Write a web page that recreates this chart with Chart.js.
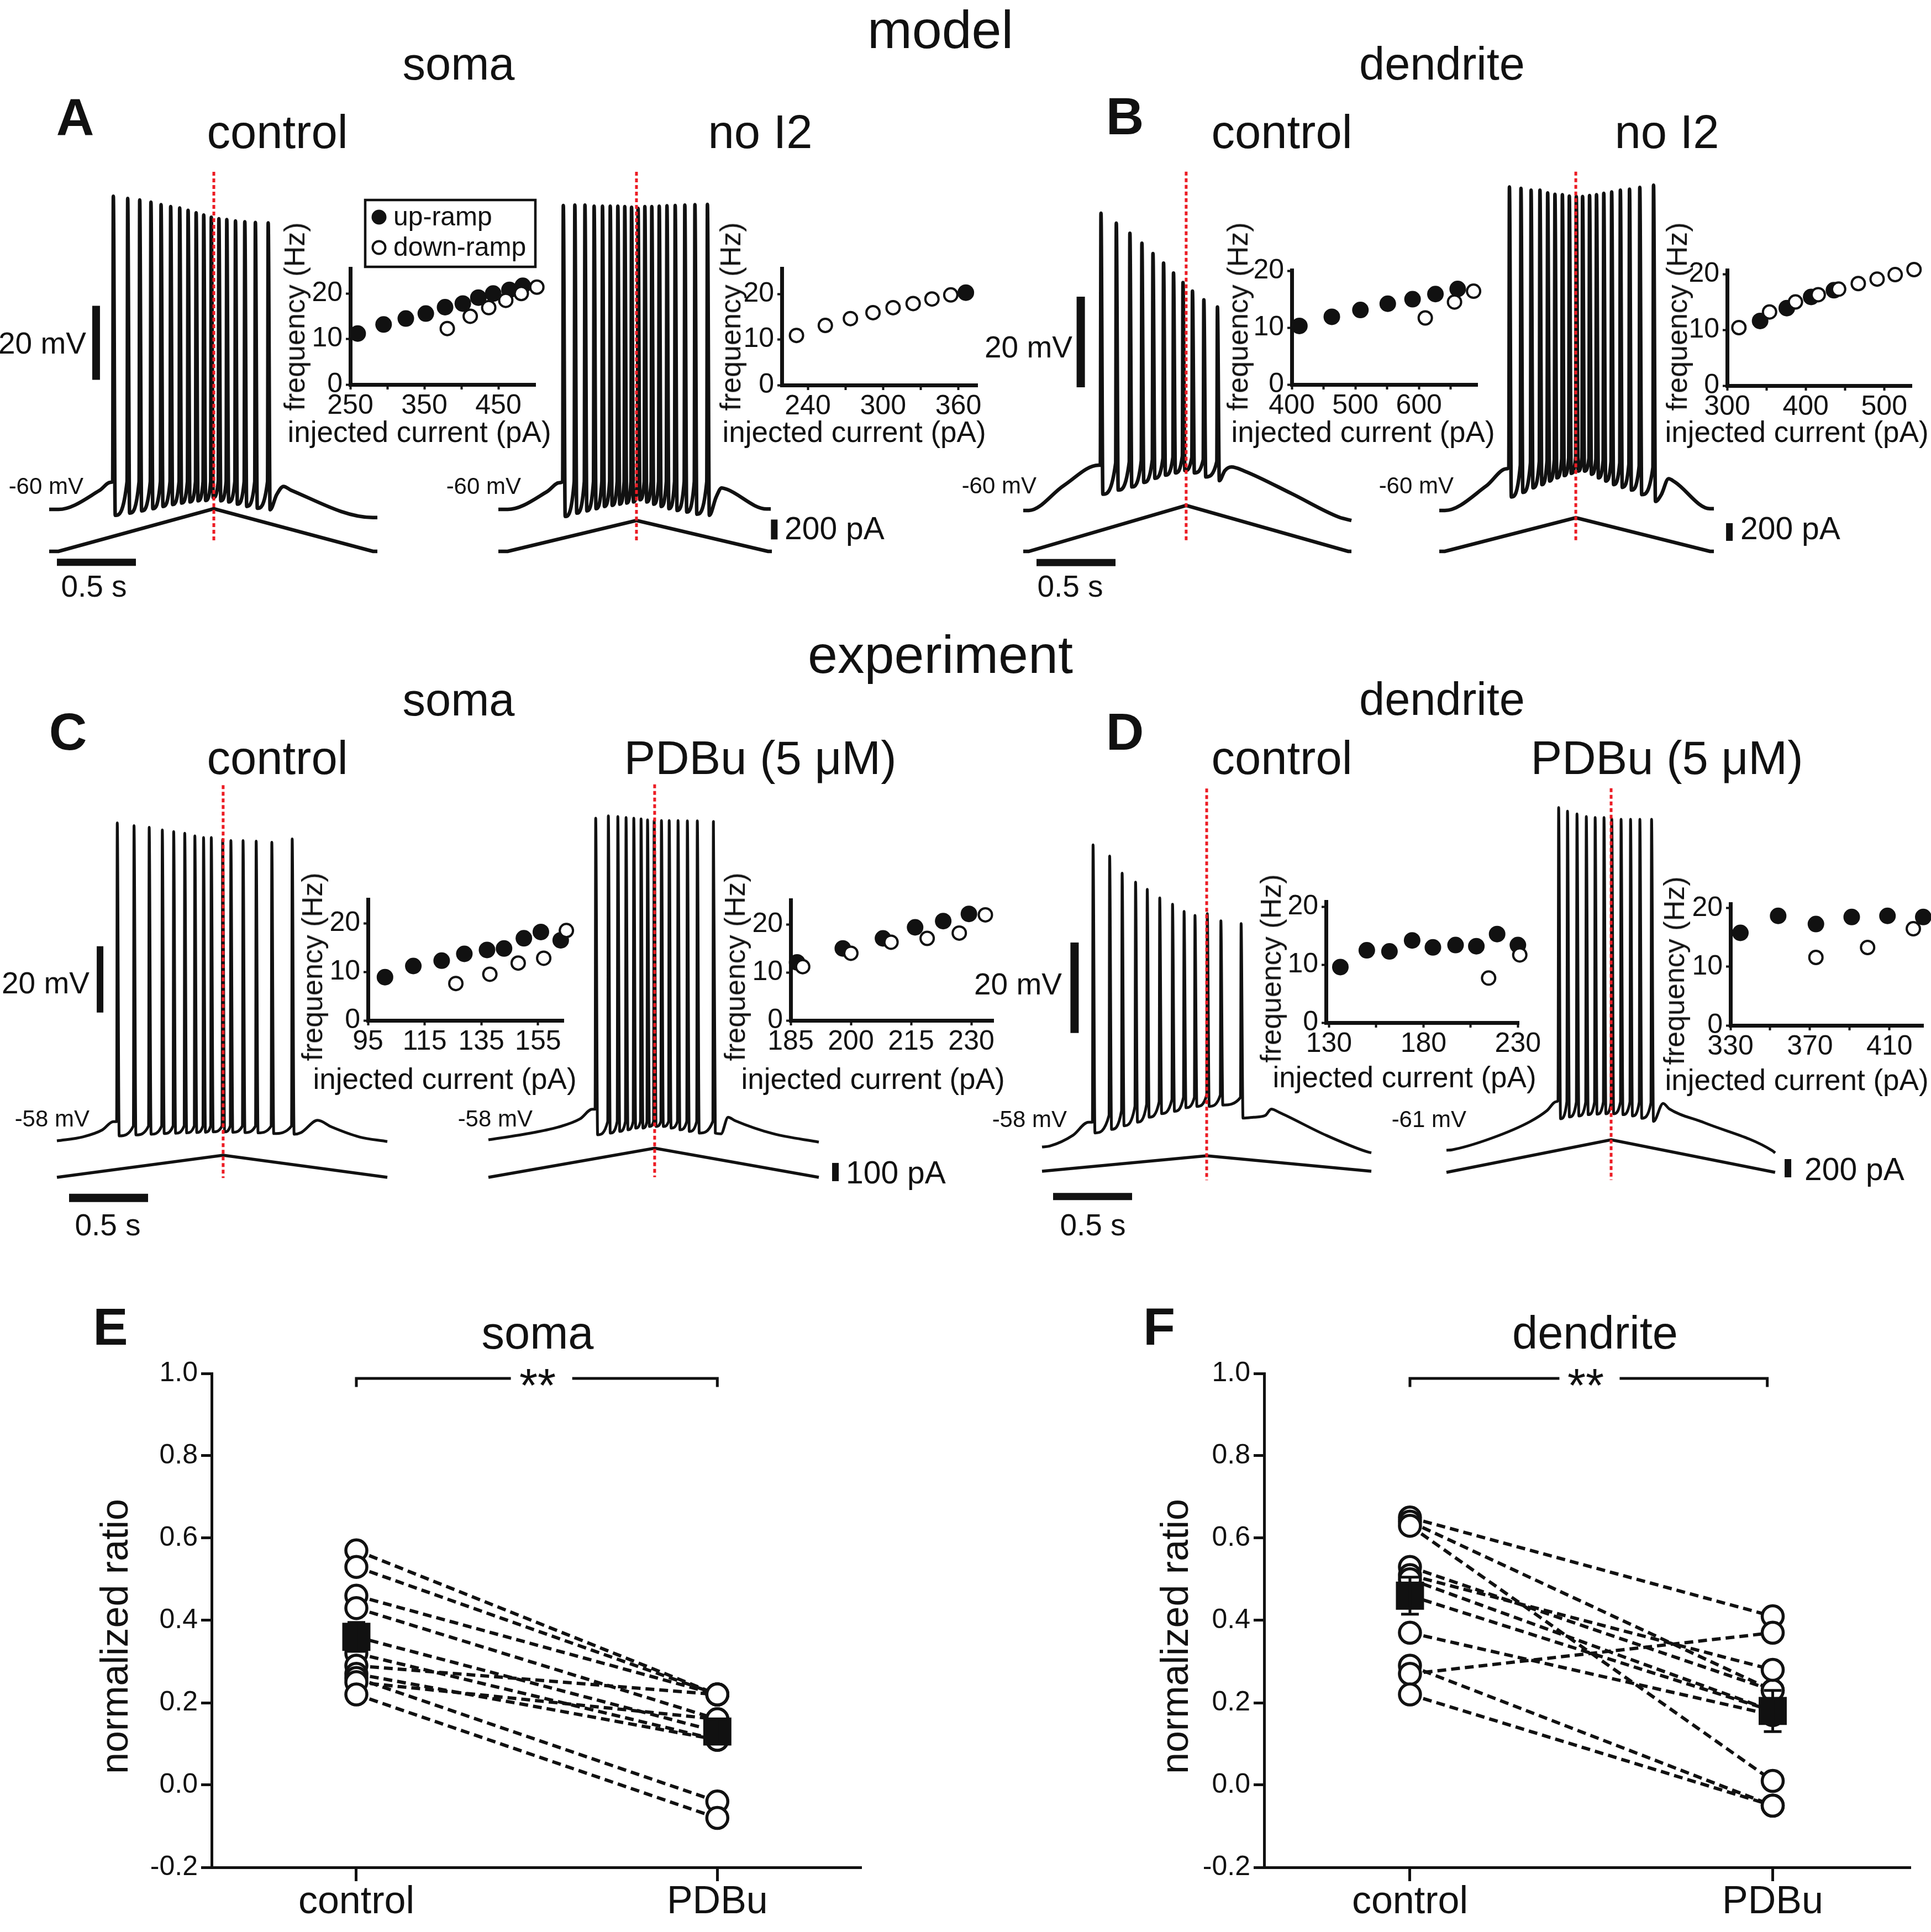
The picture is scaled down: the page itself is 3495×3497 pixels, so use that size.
<!DOCTYPE html>
<html>
<head>
<meta charset="utf-8">
<title>Ramp-evoked firing: model and experiment</title>
<script src="https://cdn.jsdelivr.net/npm/chart.js@4.4.1/dist/chart.umd.min.js"></script>
<style>
  html, body { margin:0; padding:0; background:#ffffff; }
  body { position:relative; width:3495px; height:3497px; overflow:hidden;
         font-family:"Liberation Sans", Arial, Helvetica, sans-serif; color:#111111; }
  canvas { position:absolute; }
  .lbl { position:absolute; white-space:nowrap; line-height:1; }
</style>
</head>
<body>
<script>
// =====================================================================
// DATA. Time in s, voltage in mV, current in pA,
// frequency in Hz, normalized ratio unitless.
// =====================================================================

// ---- A: model soma, control ----
const A_ctrl_preT = [0, 0.059, 0.318, 0.388];
const A_ctrl_preV = [-60, -60, -54.9, -52.7];
const A_ctrl_spikeT = [0.402,0.493,0.569,0.640,0.704,0.765,0.822,0.875,0.926,0.974,1.022,1.070,1.120,1.175,1.234,1.301,1.382];
const A_ctrl_spikePeak = [24.6,24.0,23.6,23.0,22.3,21.8,21.4,20.8,20.1,19.5,18.9,18.5,18.3,17.9,17.7,17.5,17.4];
const A_ctrl_spikeTrough = [-61.6,-61.0,-60.4,-59.8,-59.2,-58.7,-58.3,-58.0,-57.7,-57.6,-56.8,-57.7,-58.0,-58.6,-59.2,-59.7,-60.1];
const A_ctrl_spikeThr = [-52.5,-52.5,-52.5,-52.5,-52.5,-52.5,-52.5,-52.5,-52.5,-52.5,-52.5,-52.5,-52.5,-52.5,-52.5,-52.5,-52.5];
const A_ctrl_postT = [1.440, 1.483, 1.530, 2.049, 2.077];
const A_ctrl_postV = [-56.0, -53.8, -54.8, -62.2, -62.2];
const A_ctrl_rampT = [0, 0.059, 1.042, 2.049, 2.077];
const A_ctrl_rampI = [70, 70, 498, 70, 70];

// ---- A: model soma, no I2 ----
const A_noI2_preT = [0, 0.059, 0.308, 0.385];
const A_noI2_preV = [-60, -60, -55.2, -52.8];
const A_noI2_spikeT = [0.407,0.480,0.544,0.602,0.655,0.704,0.752,0.796,0.839,0.880,0.923,0.967,1.014,1.063,1.115,1.176,1.240,1.319];
const A_noI2_spikePeak = [22.1,22.2,22.2,21.9,21.9,21.9,21.9,21.8,21.6,21.3,21.8,21.8,21.9,22.0,22.1,22.2,22.3,22.4];
const A_noI2_spikeTrough = [-61.9,-61.0,-60.4,-59.8,-59.2,-58.9,-58.6,-58.3,-58.0,-57.4,-58.0,-58.6,-59.2,-59.8,-60.3,-60.7,-61.3,-61.6];
const A_noI2_spikeThr = [-52.5,-52.5,-52.5,-52.5,-52.5,-52.5,-52.5,-52.5,-52.5,-52.5,-52.5,-52.5,-52.5,-52.5,-52.5,-52.5,-52.5,-52.5];
const A_noI2_postT = [1.378, 1.413, 1.448, 1.699, 1.724];
const A_noI2_postV = [-56.7, -54.2, -54.6, -59.9, -59.9];
const A_noI2_rampT = [0, 0.059, 0.874, 1.706, 1.731];
const A_noI2_rampI = [55, 55, 366, 55, 55];

// ---- B: model dendrite, control ----
const B_ctrl_preT = [0, 0.035, 0.256, 0.476];
const B_ctrl_preV = [-60, -60, -54.5, -50.0];
const B_ctrl_spikeT = [0.488,0.585,0.671,0.747,0.817,0.884,0.947,1.007,1.067,1.139,1.225];
const B_ctrl_spikePeak = [5.6,3.4,1.2,-1.0,-3.3,-5.4,-7.6,-9.7,-11.6,-13.5,-15.1];
const B_ctrl_spikeTrough = [-56.4,-55.5,-54.8,-53.8,-52.9,-52.2,-51.7,-51.2,-51.7,-52.6,-53.4];
const B_ctrl_spikeThr = [-50.0,-49.5,-49.3,-49.0,-48.8,-48.5,-48.3,-48.0,-48.3,-48.8,-49.2];
const B_ctrl_postT = [1.276, 1.318, 1.400, 1.700, 2.000, 2.077];
const B_ctrl_postV = [-51.2, -50.4, -51.3, -56.3, -61.5, -62.2];
const B_ctrl_rampT = [0, 0.035, 1.031, 2.056, 2.077];
const B_ctrl_rampI = [160, 160, 679, 160, 160];

// ---- B: model dendrite, no I2 ----
const B_noI2_preT = [0, 0.035, 0.297, 0.425];
const B_noI2_preV = [-60, -60, -54.6, -50.8];
const B_noI2_spikeT = [0.440,0.513,0.577,0.633,0.682,0.728,0.775,0.819,0.863,0.903,0.947,0.991,1.037,1.087,1.142,1.200,1.265,1.352];
const B_noI2_spikePeak = [11.4,11.1,10.7,10.7,10.1,9.8,9.7,9.4,9.3,9.3,9.5,9.7,10.0,10.3,10.7,10.9,11.3,11.8];
const B_noI2_spikeTrough = [-57.0,-56.0,-55.0,-54.3,-53.5,-52.8,-52.3,-51.8,-51.3,-51.3,-52.0,-52.8,-53.5,-54.3,-54.9,-55.5,-56.5,-58.0];
const B_noI2_spikeThr = [-50.5,-50.0,-49.5,-49.2,-49.0,-48.8,-48.6,-48.4,-48.3,-48.3,-48.5,-48.7,-49.0,-49.2,-49.5,-49.8,-50.2,-50.5];
const B_noI2_postT = [1.405, 1.451, 1.490, 1.713, 1.738];
const B_noI2_postV = [-56.5, -53.0, -53.7, -59.6, -59.6];
const B_noI2_rampT = [0, 0.035, 0.864, 1.713, 1.738];
const B_noI2_rampI = [150, 150, 531, 150, 150];

// ---- C: experiment soma, control ----
const C_ctrl_preT = [0, 0.164, 0.287, 0.357];
const C_ctrl_preV = [-58, -56.8, -54.7, -52.2];
const C_ctrl_spikeT = [0.378,0.484,0.580,0.663,0.735,0.805,0.869,0.924,0.973,1.045,1.097,1.174,1.257,1.356,1.485];
const C_ctrl_spikePeak = [37.9,37.1,36.6,35.8,35.3,34.8,34.0,33.5,33.5,32.9,32.6,32.6,32.4,32.1,33.1];
const C_ctrl_spikeTrough = [-56.5,-56.2,-56.0,-55.8,-55.7,-55.6,-55.5,-55.4,-55.3,-55.3,-55.4,-55.5,-55.6,-55.8,-56.0];
const C_ctrl_spikeThr = [-52.2,-53.5,-53.5,-53.5,-53.5,-53.5,-53.5,-53.5,-53.5,-53.5,-53.5,-53.5,-53.5,-53.5,-53.5];
const C_ctrl_postT = [1.545, 1.650, 1.738, 1.913, 2.091];
const C_ctrl_postV = [-55.5, -51.8, -53.8, -56.8, -58.2];
const C_ctrl_rampT = [0, 1.052, 2.091];
const C_ctrl_rampI = [42, 163, 42];

// ---- C: experiment soma, PDBu (5 uM) ----
const C_pdbu_preT = [0, 0.231, 0.441, 0.580, 0.657];
const C_pdbu_preV = [-58, -56.3, -54.2, -51.7, -48.8];
const C_pdbu_spikeT = [0.675,0.755,0.815,0.867,0.916,0.962,1.003,1.045,1.091,1.140,1.196,1.255,1.318,1.420];
const C_pdbu_spikePeak = [39.0,39.7,39.5,39.2,39.0,38.8,38.5,38.3,38.3,38.3,38.3,38.2,38.2,38.0];
const C_pdbu_spikeTrough = [-56.5,-56.0,-55.5,-55.0,-54.5,-54.5,-54.0,-54.0,-54.0,-54.5,-55.0,-55.5,-56.0,-56.0];
const C_pdbu_spikeThr = [-48.8,-52.5,-52.5,-52.5,-52.5,-52.5,-52.5,-52.5,-52.5,-52.5,-52.5,-52.5,-52.5,-52.5];
const C_pdbu_postT = [1.472, 1.517, 1.559, 1.804, 2.091];
const C_pdbu_postV = [-56.2, -51.2, -52.2, -56.2, -58.7];
const C_pdbu_rampT = [0, 1.052, 2.091];
const C_pdbu_rampI = [72, 232, 72];

// ---- D: experiment dendrite, control ----
const D_ctrl_preT = [0, 0.049, 0.196, 0.294];
const D_ctrl_preV = [-58, -57.8, -55.4, -52.5];
const D_ctrl_spikeT = [0.319,0.424,0.503,0.588,0.662,0.741,0.822,0.895,0.964,1.042,1.128,1.256];
const D_ctrl_spikePeak = [9.1,6.6,2.8,0.8,-0.8,-2.7,-4.1,-5.7,-6.6,-6.2,-7.8,-8.4];
const D_ctrl_spikeTrough = [-54.9,-54.1,-53.3,-52.5,-51.4,-50.6,-50.1,-49.3,-49.0,-49.0,-48.7,-51.6];
const D_ctrl_spikeThr = [-52.5,-51.0,-50.0,-49.0,-48.5,-48.0,-47.5,-47.0,-47.0,-46.5,-46.5,-47.0];
const D_ctrl_postT = [1.340, 1.413, 1.451, 1.500, 1.797, 2.059, 2.084];
const D_ctrl_postV = [-51.4, -51.0, -49.6, -50.3, -55.4, -59.1, -59.3];
const D_ctrl_rampT = [0, 1.042, 2.084];
const D_ctrl_rampI = [62, 232, 62];

// ---- D: experiment dendrite, PDBu (5 uM) ----
const D_pdbu_preT = [0, 0.035, 0.287, 0.531, 0.636, 0.695];
const D_pdbu_preV = [-61, -60.9, -58.3, -54.6, -52.2, -50.2];
const D_pdbu_spikeT = [0.706,0.762,0.822,0.881,0.937,0.993,1.042,1.101,1.161,1.220,1.294];
const D_pdbu_spikePeak = [15.1,14.3,13.7,13.1,12.9,12.9,12.6,12.5,12.5,12.5,12.5];
const D_pdbu_spikeTrough = [-54.0,-53.6,-53.4,-53.1,-53.0,-52.9,-52.9,-53.1,-53.4,-53.9,-54.6];
const D_pdbu_spikeThr = [-50.0,-50.2,-50.3,-50.3,-50.3,-50.3,-50.3,-50.3,-50.3,-50.3,-50.5];
const D_pdbu_postT = [1.371, 1.410, 1.633, 2.063, 2.080];
const D_pdbu_postV = [-50.6, -51.8, -54.9, -61.1, -61.6];
const D_pdbu_rampT = [0, 1.042, 2.080];
const D_pdbu_rampI = [72, 430, 72];

// ---- Insets: instantaneous frequency vs injected current ----
const A_ctrl_upI = [260, 295, 325, 352, 378, 402, 423, 443, 465, 483];
const A_ctrl_upF = [11.2, 13.2, 14.5, 15.6, 17.0, 17.8, 19.1, 20.0, 20.8, 21.7];
const A_ctrl_downI = [381, 412, 437, 460, 481, 502];
const A_ctrl_downF = [12.3, 15.0, 16.9, 18.5, 20.0, 21.4];

const A_noI2_upI = [366];
const A_noI2_upF = [20.3];
const A_noI2_downI = [231, 254, 274, 292, 308, 324, 339, 354];
const A_noI2_downF = [10.9, 13.1, 14.6, 15.9, 17.0, 17.9, 18.9, 19.8];

const B_ctrl_upI = [412, 463, 508, 551, 590, 626, 661];
const B_ctrl_upF = [10.3, 11.9, 13.1, 14.2, 15.0, 15.9, 16.8];
const B_ctrl_downI = [610, 656, 686];
const B_ctrl_downF = [11.7, 14.5, 16.4];

const B_noI2_upI = [342, 376, 407, 436];
const B_noI2_upF = [11.6, 13.9, 15.9, 17.1];
const B_noI2_downI = [315, 354, 387, 416, 442, 467, 491, 514, 538];
const B_noI2_downF = [10.4, 13.2, 15.0, 16.3, 17.3, 18.3, 19.1, 19.9, 20.8];

const C_ctrl_upI = [101, 111, 121, 129, 137, 143, 150, 156, 163];
const C_ctrl_upF = [8.9, 11.2, 12.3, 13.7, 14.5, 14.8, 16.9, 18.2, 16.5];
const C_ctrl_downI = [126, 138, 148, 157, 165];
const C_ctrl_downF = [7.6, 9.5, 11.8, 12.8, 18.5];

const C_pdbu_upI = [186.6, 198, 208, 216, 223, 229.4];
const C_pdbu_upF = [12.1, 15.0, 17.1, 19.4, 20.7, 22.2];
const C_pdbu_downI = [188, 200, 210, 219, 227, 233.5];
const C_pdbu_downF = [11.2, 14.0, 16.3, 17.1, 18.2, 22.0];

const D_ctrl_upI = [136, 150, 162, 174, 185, 197, 208, 219, 230];
const D_ctrl_upF = [9.6, 12.5, 12.3, 14.2, 13.0, 13.4, 13.2, 15.3, 13.4];
const D_ctrl_downI = [214.5, 231];
const D_ctrl_downF = [7.7, 11.7];

const D_pdbu_upI = [335, 354, 373, 391, 409, 427];
const D_pdbu_upF = [15.8, 18.7, 17.3, 18.5, 18.7, 18.5];
const D_pdbu_downI = [373, 399, 422];
const D_pdbu_downF = [11.6, 13.3, 16.5];

// ---- E / F: normalized ratio, paired cells ----
const groupLabels = ['control', 'PDBu'];
const ratioTicks = [-0.2, 0.0, 0.2, 0.4, 0.6, 0.8, 1.0];
const E_control = [0.57, 0.53, 0.46, 0.43, 0.32, 0.29, 0.27, 0.26, 0.25, 0.22];
const E_pdbu    = [0.22, 0.22, 0.22, 0.16, 0.11, 0.22, 0.11, -0.04, 0.16, -0.08];
const E_mean = [0.36, 0.13];
const E_sem  = [0.035, 0.03];
const F_control = [0.65, 0.64, 0.63, 0.53, 0.51, 0.50, 0.37, 0.29, 0.27, 0.22];
const F_pdbu    = [0.41, 0.23, 0.01, 0.23, 0.28, 0.18, 0.17, -0.05, 0.37, -0.05];
const F_mean = [0.46, 0.18];
const F_sem  = [0.045, 0.05];

// =====================================================================
// RENDERING
// =====================================================================
const BLACK = '#111111';
const RED = '#ec1c24';
const PX_PER_S = 286;              // horizontal scale of the traces (0.5 s bar)
const SPIKE_RISE = 0.004, SPIKE_FALL = 0.016;   // drawing shape of a spike

Chart.defaults.font.family = "'Liberation Sans', Arial, Helvetica, sans-serif";
Chart.defaults.color = BLACK;

function makeCanvas(x, y, w, h) {
  const c = document.createElement('canvas');
  c.width = w; c.height = h;
  c.style.left = x + 'px'; c.style.top = y + 'px';
  c.style.width = w + 'px'; c.style.height = h + 'px';
  document.body.appendChild(c);
  return c;
}
function baseOptions() {
  return {
    responsive: false, animation: false, devicePixelRatio: 1, events: [],
    plugins: { legend: { display: false }, tooltip: { enabled: false }, title: { display: false } },
    elements: { point: { radius: 0 }, line: { tension: 0 } }
  };
}
function pts(xs, ys) { return xs.map((v, i) => ({ x: v, y: ys[i] })); }
function spikeTrain(preT, preV, spT, spThr, spPeak, spTrough, postT, postV) {
  const out = pts(preT, preV);
  spT.forEach((t, i) => {
    out.push({ x: t, y: spThr[i] });
    out.push({ x: t + SPIKE_RISE, y: spPeak[i] });
    out.push({ x: t + SPIKE_FALL, y: spTrough[i] });
  });
  return out.concat(pts(postT, postV));
}

function traceChart(c) {
  const [X, Y, W, H] = c.rect;
  const cv = makeCanvas(X, Y, W, H);
  const scales = {
    x:  { type: 'linear', display: false, bounds: 'data', min: (X - c.x0) / PX_PER_S, max: (X + W - c.x0) / PX_PER_S },
    y:  { type: 'linear', display: false, bounds: 'data', min: c.v0 - (Y + H - c.y0) / c.pxMV, max: c.v0 + (c.y0 - Y) / c.pxMV },
    yI: { type: 'linear', display: false, bounds: 'data', min: c.i0 - (Y + H - c.i0y) / c.pxPA, max: c.i0 + (c.i0y - Y) / c.pxPA }
  };
  const ds = [];
  ds.push({ data: [{ x: c.red, y: c.redV[0] }, { x: c.red, y: c.redV[1] }], showLine: true,
            borderColor: RED, borderWidth: 5, borderDash: [7, 5], pointRadius: 0, yAxisID: 'y', order: 0, clip: false });
  ds.push({ data: c.trace, showLine: true, borderColor: BLACK, borderWidth: c.lw,
            cubicInterpolationMode: 'monotone', borderJoinStyle: 'round', pointRadius: 0, yAxisID: 'y', order: 1, clip: false });
  ds.push({ data: c.ramp, showLine: true, borderColor: BLACK, borderWidth: c.rampLw,
            borderJoinStyle: 'miter', pointRadius: 0, yAxisID: 'yI', order: 2, clip: false });
  (c.bars || []).forEach(b => {
    const data = b.axis === 'x' ? [{ x: b.from, y: b.at }, { x: b.to, y: b.at }]
                                : [{ x: b.at, y: b.from }, { x: b.at, y: b.to }];
    ds.push({ data, showLine: true, borderColor: BLACK, borderWidth: b.w, borderCapStyle: 'butt',
              pointRadius: 0, yAxisID: b.axis === 'yI' ? 'yI' : 'y', order: 3, clip: false });
  });
  const opt = baseOptions();
  opt.scales = scales; opt.layout = { padding: 0 };
  return new Chart(cv, { type: 'scatter', data: { datasets: ds }, options: opt });
}

function insetChart(c) {
  const YW = 110, XH = 90, PT = c.padTop || 40, PR = 60;
  const X = c.L - YW, Y = c.T - PT, W = c.R - c.L + YW + PR, H = c.B - c.T + PT + XH;
  const cv = makeCanvas(X, Y, W, H);
  const ds = [
    { data: pts(c.downI, c.downF), pointRadius: 12, pointBorderWidth: 4, pointBackgroundColor: '#ffffff',
      pointBorderColor: BLACK, order: 0, clip: false },
    { data: pts(c.upI, c.upF), pointRadius: 15, pointBorderWidth: 0, pointBackgroundColor: BLACK,
      pointBorderColor: BLACK, order: 1, clip: false }
  ];
  const opt = baseOptions();
  opt.layout = { padding: { top: PT, right: PR, left: 0, bottom: 0 } };
  opt.scales = {
    x: { type: 'linear', bounds: 'data', min: c.xr[0], max: c.xr[1],
         afterBuildTicks: s => { s.ticks = c.xt.map(v => ({ value: v })); },
         afterFit: s => { s.height = XH; },
         ticks: { autoSkip: false, maxRotation: 0, minRotation: 0, padding: 0, font: { size: 50 }, color: BLACK,
                  callback: v => (c.xl.includes(v) ? String(v) : '') },
         grid: { drawOnChartArea: false, drawTicks: true, tickLength: 9, tickWidth: 4, tickColor: BLACK },
         border: { display: true, width: 7, color: BLACK } },
    y: { type: 'linear', bounds: 'data', min: c.yr[0], max: c.yr[1],
         afterBuildTicks: s => { s.ticks = [0, 10, 20].map(v => ({ value: v })); },
         afterFit: s => { s.width = YW; },
         ticks: { autoSkip: false, padding: 6, font: { size: 50 }, color: BLACK, callback: v => String(v) },
         grid: { drawOnChartArea: false, drawTicks: true, tickLength: 8, tickWidth: 4, tickColor: BLACK },
         border: { display: true, width: 7, color: BLACK } }
  };
  const plugins = [];
  if (c.legend) {
    plugins.push({
      id: 'rampLegend',
      afterDraw(chart) {
        const ctx = chart.ctx, g = c.legend;
        ctx.save();
        ctx.lineWidth = 4.5; ctx.strokeStyle = BLACK;
        ctx.strokeRect(g.box[0] - X, g.box[1] - Y, g.box[2] - g.box[0], g.box[3] - g.box[1]);
        ctx.fillStyle = BLACK;
        ctx.beginPath(); ctx.arc(g.dot[0] - X, g.rows[0] - Y, 13.5, 0, Math.PI * 2); ctx.fill();
        ctx.beginPath(); ctx.arc(g.dot[0] - X, g.rows[1] - Y, 11.5, 0, Math.PI * 2);
        ctx.fillStyle = '#ffffff'; ctx.fill(); ctx.lineWidth = 4; ctx.stroke();
        ctx.fillStyle = BLACK;
        ctx.font = "48px 'Liberation Sans', Arial, sans-serif";
        ctx.textBaseline = 'middle'; ctx.textAlign = 'left';
        ctx.fillText(g.labels[0], g.textX - X, g.rows[0] - Y + 2);
        ctx.fillText(g.labels[1], g.textX - X, g.rows[1] - Y + 2);
        ctx.restore();
      }
    });
  }
  return new Chart(cv, { type: 'scatter', data: { datasets: ds }, options: opt, plugins });
}

function pairChart(c) {
  const YW = 200, XH = 130, PT = 60, PR = 30;
  const X = c.L - YW, Y = c.T - PT, W = c.R - c.L + YW + PR, H = c.B - c.T + PT + XH;
  const cv = makeCanvas(X, Y, W, H);
  const dash = [16, 9];
  const ds = [];
  ds.push({ data: pts([0, 1], c.mean), showLine: true, borderColor: BLACK, borderWidth: 6, borderDash: dash,
            pointStyle: 'rect', pointRadius: 36, pointBorderWidth: 0, pointBackgroundColor: BLACK, order: 0, clip: false });
  ds.push({ data: c.ctrl.map(v => ({ x: 0, y: v })).concat(c.pdbu.map(v => ({ x: 1, y: v }))),
            pointStyle: 'circle', pointRadius: 19, pointBorderWidth: 5.5, pointBackgroundColor: '#ffffff',
            pointBorderColor: BLACK, order: 1, clip: false });
  c.ctrl.forEach((v, i) => {
    ds.push({ data: [{ x: 0, y: v }, { x: 1, y: c.pdbu[i] }], showLine: true, borderColor: BLACK,
              borderWidth: 6, borderDash: dash, pointRadius: 0, order: 2, clip: false });
  });
  ds.push({ data: c.bracket, showLine: true, spanGaps: false, borderColor: BLACK, borderWidth: 5,
            borderJoinStyle: 'miter', pointRadius: 0, order: 3, clip: false });
  const opt = baseOptions();
  opt.layout = { padding: { top: PT, right: PR, left: 0, bottom: 0 } };
  opt.scales = {
    x: { type: 'linear', bounds: 'data', min: c.xr[0], max: c.xr[1],
         afterBuildTicks: s => { s.ticks = [{ value: 0 }, { value: 1 }]; },
         afterFit: s => { s.height = XH; },
         ticks: { autoSkip: false, maxRotation: 0, minRotation: 0, padding: -3, font: { size: 70 }, color: BLACK,
                  callback: v => (v === 0 ? groupLabels[0] : v === 1 ? groupLabels[1] : '') },
         grid: { drawOnChartArea: false, drawTicks: true, tickLength: 25, tickWidth: 5, tickColor: BLACK },
         border: { display: true, width: 5, color: BLACK } },
    y: { type: 'linear', bounds: 'data', min: -0.2, max: 1.0,
         afterBuildTicks: s => { s.ticks = ratioTicks.map(v => ({ value: v })); },
         afterFit: s => { s.width = YW; },
         ticks: { autoSkip: false, padding: 6, font: { size: 50 }, color: BLACK, callback: v => Number(v).toFixed(1) },
         grid: { drawOnChartArea: false, drawTicks: true, tickLength: 19, tickWidth: 5, tickColor: BLACK },
         border: { display: true, width: 5, color: BLACK } }
  };
  const errPlugin = {
    id: 'semBars',
    afterDatasetsDraw(chart) {
      const ctx = chart.ctx, xs = chart.scales.x, ys = chart.scales.y;
      ctx.save(); ctx.strokeStyle = BLACK; ctx.lineWidth = 5;
      c.mean.forEach((m, i) => {
        const x = xs.getPixelForValue(i);
        const y1 = ys.getPixelForValue(m - c.sem[i]), y2 = ys.getPixelForValue(m + c.sem[i]);
        ctx.beginPath();
        ctx.moveTo(x, y1); ctx.lineTo(x, y2);
        ctx.moveTo(x - 16, y1); ctx.lineTo(x + 16, y1);
        ctx.moveTo(x - 16, y2); ctx.lineTo(x + 16, y2);
        ctx.stroke();
      });
      ctx.restore();
    }
  };
  return new Chart(cv, { type: 'scatter', data: { datasets: ds }, options: opt, plugins: [errPlugin] });
}

function addText(s, x, y, size, anchor, flags) {
  const d = document.createElement('div');
  d.className = 'lbl'; d.textContent = s;
  d.style.fontSize = size + 'px';
  if (flags && flags.bold) d.style.fontWeight = 'bold';
  if (flags && flags.rot) {
    d.style.left = x + 'px'; d.style.top = y + 'px';
    d.style.transform = 'translate(-50%,-50%) rotate(-90deg)';
  } else {
    d.style.top = (y - 0.8465 * size) + 'px';
    if (anchor === 'c') { d.style.left = x + 'px'; d.style.transform = 'translateX(-50%)'; }
    else if (anchor === 'r') { d.style.right = (3495 - x) + 'px'; }
    else { d.style.left = x + 'px'; }
  }
  document.body.appendChild(d);
}

// ---------------- voltage / current traces ----------------
traceChart({ rect: [0, 290, 720, 760], x0: 89, y0: 922, v0: -60, pxMV: 6.7, i0y: 998, i0: 70, pxPA: 0.18,
  red: 1.042, redV: [31.2, -68.7], lw: 6.5, rampLw: 6.5,
  trace: spikeTrain(A_ctrl_preT, A_ctrl_preV, A_ctrl_spikeT, A_ctrl_spikeThr, A_ctrl_spikePeak, A_ctrl_spikeTrough, A_ctrl_postT, A_ctrl_postV),
  ramp: pts(A_ctrl_rampT, A_ctrl_rampI),
  bars: [{ axis: 'y', at: 0.297, from: -25, to: -5, w: 14 }, { axis: 'x', at: -74.3, from: 0.049, to: 0.549, w: 13 }] });
traceChart({ rect: [880, 290, 560, 760], x0: 902, y0: 922, v0: -60, pxMV: 6.7, i0y: 998, i0: 55, pxPA: 0.18,
  red: 0.874, redV: [31.2, -68.7], lw: 6.5, rampLw: 6.5,
  trace: spikeTrain(A_noI2_preT, A_noI2_preV, A_noI2_spikeT, A_noI2_spikeThr, A_noI2_spikePeak, A_noI2_spikeTrough, A_noI2_postT, A_noI2_postV),
  ramp: pts(A_noI2_rampT, A_noI2_rampI),
  bars: [{ axis: 'yI', at: 1.746, from: 175, to: 375, w: 12 }] });
traceChart({ rect: [1840, 290, 620, 760], x0: 1852, y0: 924, v0: -60, pxMV: 8.2, i0y: 998, i0: 160, pxPA: 0.16,
  red: 1.031, redV: [14.8, -66.8], lw: 6.5, rampLw: 6.5,
  trace: spikeTrain(B_ctrl_preT, B_ctrl_preV, B_ctrl_spikeT, B_ctrl_spikeThr, B_ctrl_spikePeak, B_ctrl_spikeTrough, B_ctrl_postT, B_ctrl_postV),
  ramp: pts(B_ctrl_rampT, B_ctrl_rampI),
  bars: [{ axis: 'y', at: 0.364, from: -32.8, to: -12.8, w: 15 }, { axis: 'x', at: -71.5, from: 0.084, to: 0.584, w: 13 }] });
traceChart({ rect: [2590, 290, 600, 760], x0: 2605, y0: 924, v0: -60, pxMV: 8.2, i0y: 998, i0: 150, pxPA: 0.16,
  red: 0.864, redV: [14.8, -66.8], lw: 6.5, rampLw: 6.5,
  trace: spikeTrain(B_noI2_preT, B_noI2_preV, B_noI2_spikeT, B_noI2_spikeThr, B_noI2_spikePeak, B_noI2_spikeTrough, B_noI2_postT, B_noI2_postV),
  ramp: pts(B_noI2_rampT, B_noI2_rampI),
  bars: [{ axis: 'yI', at: 1.836, from: 269, to: 469, w: 12 }] });
traceChart({ rect: [0, 1400, 720, 800], x0: 103, y0: 2065, v0: -58, pxMV: 6.0, i0y: 2131, i0: 42, pxPA: 0.33,
  red: 1.052, redV: [49.3, -69.2], lw: 5, rampLw: 5.5,
  trace: spikeTrain(C_ctrl_preT, C_ctrl_preV, C_ctrl_spikeT, C_ctrl_spikeThr, C_ctrl_spikePeak, C_ctrl_spikeTrough, C_ctrl_postT, C_ctrl_postV),
  ramp: pts(C_ctrl_rampT, C_ctrl_rampI),
  bars: [{ axis: 'y', at: 0.273, from: -19.3, to: 0.7, w: 12 }, { axis: 'x', at: -75.2, from: 0.077, to: 0.577, w: 15 }] });
traceChart({ rect: [870, 1400, 680, 800], x0: 884, y0: 2063, v0: -58, pxMV: 6.0, i0y: 2131, i0: 72, pxPA: 0.33,
  red: 1.052, redV: [49.2, -69.3], lw: 5, rampLw: 5.5,
  trace: spikeTrain(C_pdbu_preT, C_pdbu_preV, C_pdbu_spikeT, C_pdbu_spikeThr, C_pdbu_spikePeak, C_pdbu_spikeTrough, C_pdbu_postT, C_pdbu_postV),
  ramp: pts(C_pdbu_rampT, C_pdbu_rampI),
  bars: [{ axis: 'yI', at: 2.196, from: 51, to: 151, w: 12 }] });
traceChart({ rect: [1870, 1400, 630, 800], x0: 1886, y0: 2076, v0: -58, pxMV: 8.15, i0y: 2120, i0: 62, pxPA: 0.165,
  red: 1.042, redV: [21.6, -65.4], lw: 5, rampLw: 5.5,
  trace: spikeTrain(D_ctrl_preT, D_ctrl_preV, D_ctrl_spikeT, D_ctrl_spikeThr, D_ctrl_spikePeak, D_ctrl_spikeTrough, D_ctrl_postT, D_ctrl_postV),
  ramp: pts(D_ctrl_rampT, D_ctrl_rampI),
  bars: [{ axis: 'y', at: 0.206, from: -32.7, to: -12.6, w: 15 }, { axis: 'x', at: -69.0, from: 0.070, to: 0.570, w: 13 }] });
traceChart({ rect: [2600, 1400, 660, 800], x0: 2618, y0: 2082, v0: -61, pxMV: 8.15, i0y: 2122, i0: 72, pxPA: 0.165,
  red: 1.042, redV: [19.4, -67.6], lw: 5, rampLw: 5.5,
  trace: spikeTrain(D_pdbu_preT, D_pdbu_preV, D_pdbu_spikeT, D_pdbu_spikeThr, D_pdbu_spikePeak, D_pdbu_spikeTrough, D_pdbu_postT, D_pdbu_postV),
  ramp: pts(D_pdbu_rampT, D_pdbu_rampI),
  bars: [{ axis: 'yI', at: 2.161, from: 17.5, to: 217.5, w: 12 }] });

// ---------------- f-I insets ----------------
insetChart({ L: 634, R: 969, T: 486, B: 696, xr: [250, 500], xt: [250, 300, 350, 400, 450], xl: [250, 350, 450], yr: [0, 25.5],
  upI: A_ctrl_upI, upF: A_ctrl_upF, downI: A_ctrl_downI, downF: A_ctrl_downF, padTop: 140,
  legend: { box: [661, 362, 969, 483], dot: [686], rows: [393, 448], textX: 712, labels: ['up-ramp', 'down-ramp'] } });
insetChart({ L: 1415, R: 1769, T: 486, B: 697, xr: [219.3, 375.2], xt: [240, 270, 300, 330, 360], xl: [240, 300, 360], yr: [0, 25.6],
  upI: A_noI2_upI, upF: A_noI2_upF, downI: A_noI2_downI, downF: A_noI2_downF });
insetChart({ L: 2338, R: 2674, T: 489, B: 696, xr: [400, 692], xt: [400, 450, 500, 550, 600, 650], xl: [400, 500, 600], yr: [0, 20.1],
  upI: B_ctrl_upI, upF: B_ctrl_upF, downI: B_ctrl_downI, downF: B_ctrl_downF });
insetChart({ L: 3126, R: 3460, T: 489, B: 698, xr: [300, 535], xt: [300, 350, 400, 450, 500], xl: [300, 400, 500], yr: [0, 20.7],
  upI: B_noI2_upI, upF: B_noI2_upF, downI: B_noI2_downI, downF: B_noI2_downF });
insetChart({ L: 666, R: 1020, T: 1628, B: 1847, xr: [95, 164], xt: [95, 115, 135, 155], xl: [95, 115, 135, 155], yr: [0, 24.9],
  upI: C_ctrl_upI, upF: C_ctrl_upF, downI: C_ctrl_downI, downF: C_ctrl_downF });
insetChart({ L: 1431, R: 1798, T: 1629, B: 1847, xr: [185, 235.5], xt: [185, 200, 215, 230], xl: [185, 200, 215, 230], yr: [0, 25.1],
  upI: C_pdbu_upI, upF: C_pdbu_upF, downI: C_pdbu_downI, downF: C_pdbu_downF });
insetChart({ L: 2400, R: 2749, T: 1632, B: 1851, xr: [128.4, 230.5], xt: [130, 155, 180, 205, 230], xl: [130, 180, 230], yr: [0, 20.9],
  upI: D_ctrl_upI, upF: D_ctrl_upF, downI: D_ctrl_downI, downF: D_ctrl_downF });
insetChart({ L: 3132, R: 3481, T: 1636, B: 1856, xr: [330, 427], xt: [330, 350, 370, 390, 410], xl: [330, 370, 410], yr: [0, 20.75],
  upI: D_pdbu_upI, upF: D_pdbu_upF, downI: D_pdbu_downI, downF: D_pdbu_downF });

// ---------------- E / F paired plots ----------------
pairChart({ L: 383, R: 1565, T: 2486, B: 3380, xr: [-0.401, 1.399], ctrl: E_control, pdbu: E_pdbu, mean: E_mean, sem: E_sem,
  bracket: [{ x: 0, y: 0.967 }, { x: 0, y: 0.988 }, { x: 0.428, y: 0.988 }, { x: 0.5, y: null },
            { x: 0.598, y: 0.988 }, { x: 1, y: 0.988 }, { x: 1, y: 0.967 }] });
pairChart({ L: 2288, R: 3464, T: 2486, B: 3380, xr: [-0.402, 1.380], ctrl: F_control, pdbu: F_pdbu, mean: F_mean, sem: F_sem,
  bracket: [{ x: 0, y: 0.967 }, { x: 0, y: 0.988 }, { x: 0.412, y: 0.988 }, { x: 0.5, y: null },
            { x: 0.578, y: 0.988 }, { x: 0.985, y: 0.988 }, { x: 0.985, y: 0.967 }] });

// ---------------- text ----------------
const TXT = [
  ['model', 1702, 87, 97, 'c'], ['soma', 830, 144, 83, 'c'], ['dendrite', 2610, 144, 83, 'c'],
  ['A', 136, 245, 95, 'c', { bold: true }], ['B', 2036, 243, 95, 'c', { bold: true }],
  ['control', 502, 268, 85, 'c'], ['no I2', 1376, 268, 85, 'c'], ['control', 2320, 268, 85, 'c'], ['no I2', 3017, 268, 85, 'c'],
  ['20 mV', 156, 641, 55, 'r'], ['-60 mV', 151, 895, 42, 'r'], ['0.5 s', 170, 1081, 55, 'c'],
  ['-60 mV', 943, 895, 42, 'r'], ['200 pA', 1420, 976, 57, 'l'],
  ['20 mV', 1941, 648, 55, 'r'], ['-60 mV', 1876, 894, 42, 'r'], ['0.5 s', 1937, 1081, 55, 'c'],
  ['-60 mV', 2631, 894, 42, 'r'], ['200 pA', 3150, 976, 57, 'l'],
  ['frequency (Hz)', 533, 573, 52, 'c', { rot: true }], ['injected current (pA)', 759, 800, 53, 'c'],
  ['frequency (Hz)', 1322, 573, 52, 'c', { rot: true }], ['injected current (pA)', 1546, 800, 53, 'c'],
  ['frequency (Hz)', 2240, 573, 52, 'c', { rot: true }], ['injected current (pA)', 2467, 800, 53, 'c'],
  ['frequency (Hz)', 3035, 573, 52, 'c', { rot: true }], ['injected current (pA)', 3252, 800, 53, 'c'],

  ['experiment', 1702, 1218, 97, 'c'], ['soma', 830, 1295, 83, 'c'], ['dendrite', 2610, 1294, 83, 'c'],
  ['C', 123, 1357, 95, 'c', { bold: true }], ['D', 2036, 1357, 95, 'c', { bold: true }],
  ['control', 502, 1401, 85, 'c'], ['PDBu (5 \u03BCM)', 1376, 1401, 85, 'c'],
  ['control', 2320, 1401, 85, 'c'], ['PDBu (5 \u03BCM)', 3017, 1401, 85, 'c'],
  ['20 mV', 162, 1799, 55, 'r'], ['-58 mV', 162, 2040, 42, 'r'], ['0.5 s', 195, 2237, 55, 'c'],
  ['-58 mV', 964, 2040, 42, 'r'], ['100 pA', 1531, 2142, 57, 'l'],
  ['20 mV', 1922, 1801, 55, 'r'], ['-58 mV', 1931, 2041, 42, 'r'], ['0.5 s', 1978, 2237, 55, 'c'],
  ['-61 mV', 2654, 2041, 42, 'r'], ['200 pA', 3266, 2136, 57, 'l'],
  ['frequency (Hz)', 565, 1750, 52, 'c', { rot: true }], ['injected current (pA)', 805, 1971, 53, 'c'],
  ['frequency (Hz)', 1330, 1750, 52, 'c', { rot: true }], ['injected current (pA)', 1580, 1971, 53, 'c'],
  ['frequency (Hz)', 2300, 1753, 52, 'c', { rot: true }], ['injected current (pA)', 2542, 1968, 53, 'c'],
  ['frequency (Hz)', 3030, 1757, 52, 'c', { rot: true }], ['injected current (pA)', 3252, 1973, 53, 'c'],

  ['E', 200, 2434, 95, 'c', { bold: true }], ['F', 2098, 2434, 95, 'c', { bold: true }],
  ['soma', 973, 2441, 83, 'c'], ['dendrite', 2887, 2441, 83, 'c'],
  ['**', 973, 2537, 85, 'c'], ['**', 2870, 2537, 85, 'c'],
  ['normalized ratio', 207, 2962, 70, 'c', { rot: true }], ['normalized ratio', 2126, 2962, 70, 'c', { rot: true }]
];
TXT.forEach(t => addText(t[0], t[1], t[2], t[3], t[4], t[5]));
</script>
</body>
</html>
